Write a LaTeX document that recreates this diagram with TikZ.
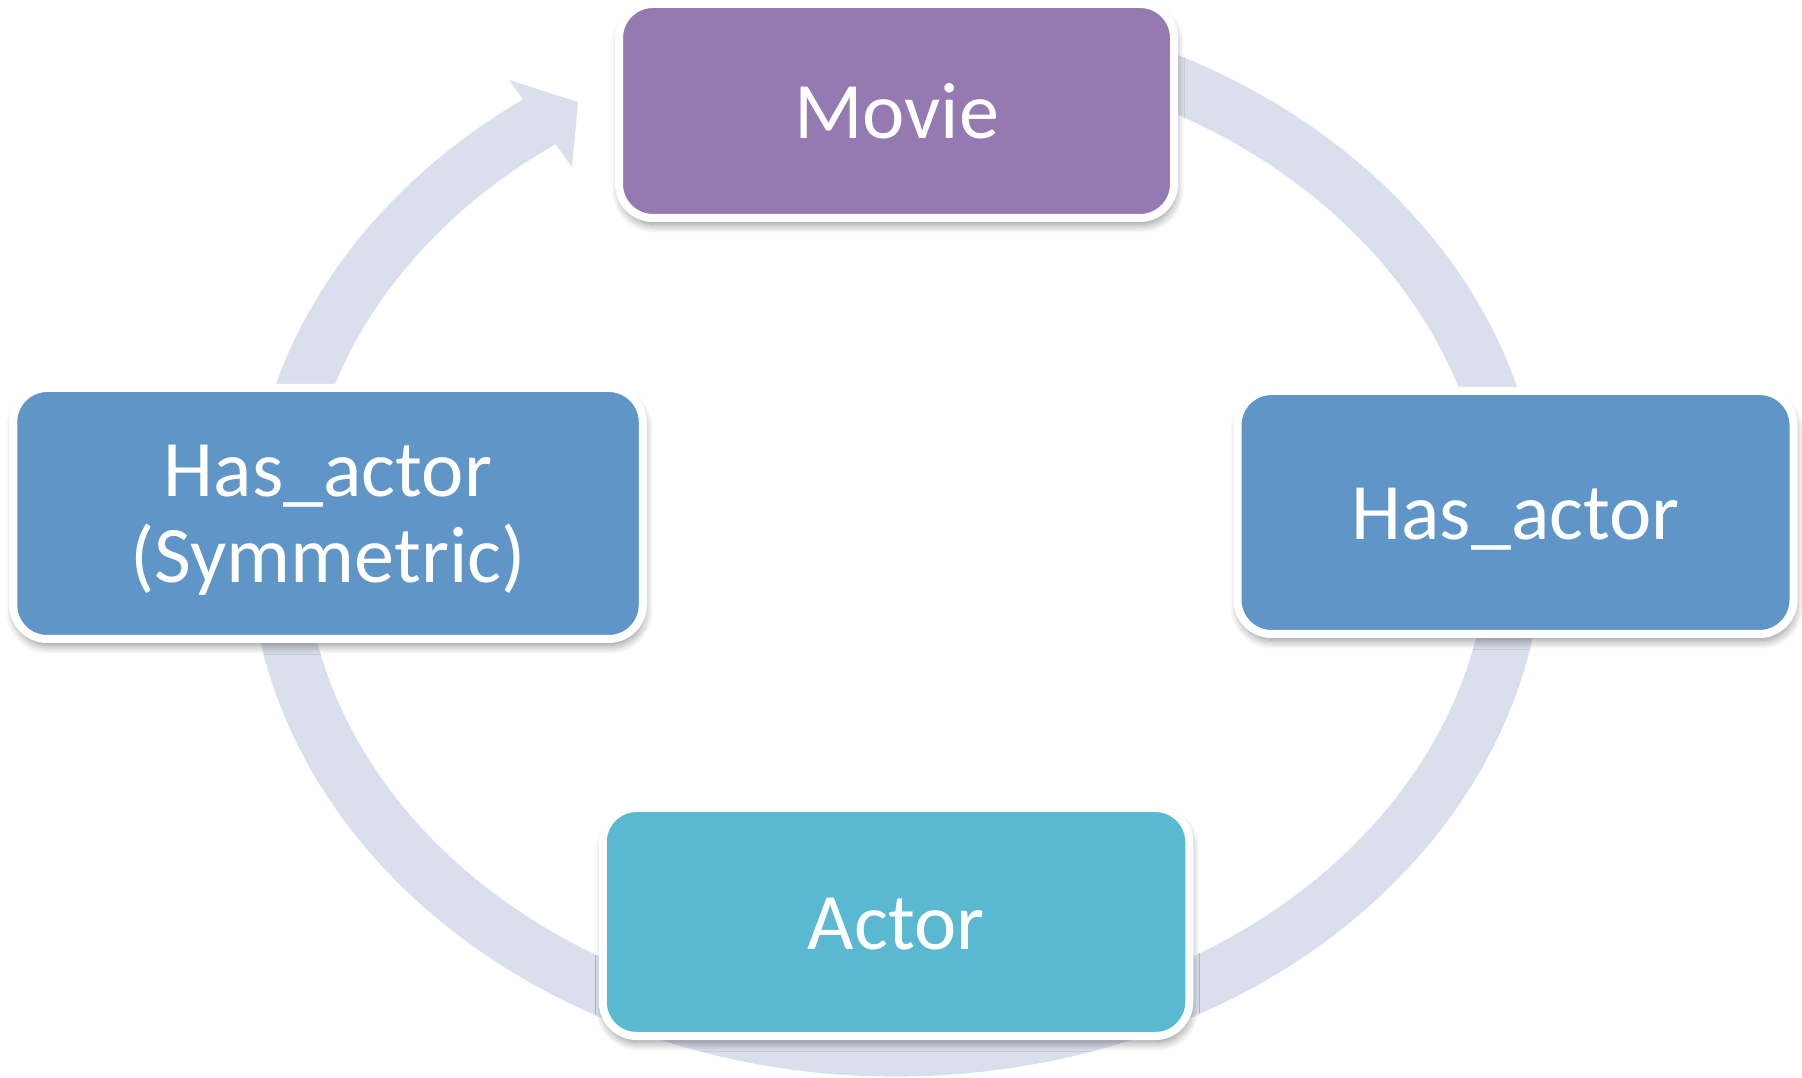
\documentclass[tikz,border=0pt]{standalone}
\usepackage{fontspec}
\setmainfont{Carlito}
\usepackage{tikz}
\usetikzlibrary{shadows.blur}
\usepackage{xcolor}
\definecolor{moviepurple}{HTML}{9579B1}
\definecolor{relblue}{HTML}{5F95C7}
\definecolor{actorteal}{HTML}{5BB8D1}
\definecolor{ringblue}{HTML}{D9DFED}

\begin{document}
\begin{tikzpicture}[line width = 1pt,
  box/.style={draw=white, line width=0.08cm, rounded corners=0.34cm, inner sep=0pt,
    text=white, align=center, font=\fontsize{22.8pt}{24.5pt}\selectfont,
    text height=15.6pt, text depth=0pt,
    blur shadow={shadow xshift=0.4pt, shadow yshift=-1.8pt, shadow blur radius=2.5pt,
      shadow blur steps=10, shadow opacity=45}},
  ring/.style={draw=ringblue, line width=0.55cm}]
\useasboundingbox (0,0) rectangle (18.02,-10.78);
\coordinate (ringc) at (8.96,-5.39);
\draw[ring] (ringc) ++(100:6.2cm and 5.1cm) arc[start angle=100, end angle=-236, x radius=6.2, y radius=5.1];
\fill[ringblue] (5.09,-0.80) -- (5.78,-1.02) -- (5.72,-1.67) -- cycle;  % arrowhead
\node[box, fill=moviepurple, minimum width=5.55cm, minimum height=2.14cm] (movie) at (8.965,-1.11) {Movie};
\node[box, fill=relblue, minimum width=5.56cm, minimum height=2.43cm] (hasactor) at (15.155,-5.125) {Has\_actor};
\node[box, fill=actorteal, minimum width=5.865cm, minimum height=2.28cm] (actor) at (8.96,-9.22) {Actor};
\node[box, fill=relblue, minimum width=6.295cm, minimum height=2.51cm, text height=39.2pt] (hasactorsym) at (3.28,-5.135) {Has\_actor\\(Symmetric)};
\end{tikzpicture}
\end{document}
